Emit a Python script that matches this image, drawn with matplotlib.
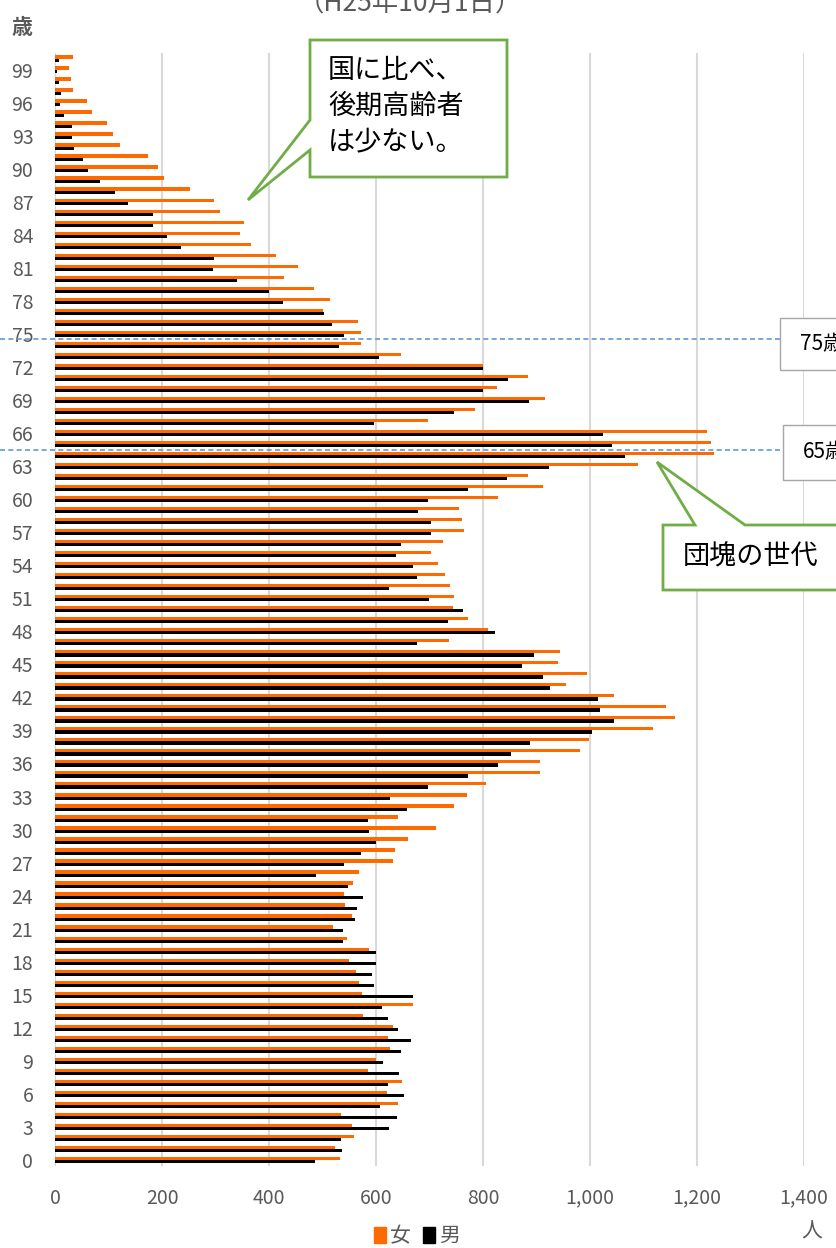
import matplotlib
matplotlib.use('Agg')
import matplotlib.pyplot as plt
from matplotlib.patches import Polygon, Rectangle, Patch
from matplotlib.transforms import blended_transform_factory
from matplotlib.ticker import FuncFormatter
import numpy as np

plt.rcParams['font.family'] = ['Noto Sans CJK JP', 'DejaVu Sans']

# 年齢 0〜100
ages = np.arange(0, 101)
female = [532, 522, 558, 554, 535, 641, 620, 649, 584, 599,
          625, 622, 631, 575, 668, 574, 567, 563, 549, 587,
          546, 519, 555, 541, 539, 557, 568, 631, 636, 660,
          712, 640, 745, 770, 805, 906, 907, 981, 998, 1118,
          1159, 1142, 1044, 955, 995, 941, 944, 737, 809, 772,
          744, 746, 738, 728, 716, 703, 725, 765, 761, 754,
          828, 913, 884, 1090, 1232, 1226, 1218, 697, 785, 915,
          826, 884, 800, 646, 571, 571, 566, 500, 513, 483,
          427, 454, 412, 366, 346, 353, 308, 296, 251, 203,
          191, 173, 120, 108, 96, 69, 59, 32, 29, 25, 32]
male = [485, 536, 535, 624, 638, 608, 652, 623, 642, 613,
        647, 665, 640, 623, 611, 668, 595, 592, 600, 599,
        537, 538, 560, 565, 575, 548, 488, 539, 571, 600,
        587, 585, 657, 626, 697, 772, 828, 853, 888, 1004,
        1045, 1018, 1015, 926, 913, 873, 896, 676, 822, 735,
        762, 698, 624, 677, 668, 637, 647, 703, 703, 678,
        696, 772, 844, 923, 1066, 1041, 1024, 596, 746, 886,
        799, 847, 800, 606, 530, 539, 517, 503, 426, 399,
        339, 294, 296, 235, 208, 182, 182, 135, 111, 83,
        60, 51, 34, 31, 30, 16, 8, 11, 6, 2, 7]
y_ticks = list(range(0, 100, 3))
x_ticks = list(range(0, 1401, 200))

ORANGE = '#FF6A00'
GRAY = '#595959'

fig = plt.figure(figsize=(8.37, 12.48), dpi=100)
ax = fig.add_axes([55.5 / 837, 1 - 1165.5 / 1248, 748.3 / 837, 1112.5 / 1248])

h = 0.29
ax.barh(ages + h / 2, female, height=h, color=ORANGE, zorder=3)
ax.barh(ages - h / 2, male, height=h, color='black', zorder=3)

ax.set_xlim(0, 1400)
ax.set_ylim(-0.5, 100.5)
ax.set_xticks(x_ticks)
ax.set_yticks(y_ticks)
ax.xaxis.set_major_formatter(FuncFormatter(lambda v, p: f'{int(v):,}'))
ax.tick_params(axis='both', length=0, labelsize=14, colors=GRAY)
ax.tick_params(axis='x', pad=16)
ax.tick_params(axis='y', pad=16)
ax.grid(axis='x', color='#D9D9D9', linewidth=1.5, zorder=0)
for s in ax.spines.values():
    s.set_visible(False)

# 75歳・65歳の境界線
blend = blended_transform_factory(fig.transFigure, ax.transData)
for yy in [74.5, 64.5]:
    ax.plot([0, 1], [yy, yy], transform=blend, clip_on=False,
            color='#5B9BD5', linestyle=(0, (3, 2)), linewidth=1.2, zorder=4)

# 注記用のオーバーレイ（ピクセル座標）
ov = fig.add_axes([0, 0, 1, 1])
ov.set_xlim(0, 837)
ov.set_ylim(1248, 0)
ov.axis('off')
ov.patch.set_alpha(0)

green = '#70AD47'
call1 = [(310, 40), (507, 40), (507, 177), (310, 177), (310, 150), (248, 200), (310, 120)]
ov.add_patch(Polygon(call1, closed=True, facecolor='white', edgecolor=green, linewidth=2))
for i, line in enumerate(['国に比べ、', '後期高齢者', 'は少ない。']):
    ov.text(328, 70 + 36 * i, line, fontsize=19.5, va='center', ha='left', color='black')

call2 = [(663, 525), (695, 525), (657, 462), (745, 525), (850, 525), (850, 590), (663, 590)]
ov.add_patch(Polygon(call2, closed=True, facecolor='white', edgecolor=green, linewidth=2))
ov.text(683, 557, '団塊の世代', fontsize=19.5, va='center', ha='left', color='black')

ov.add_patch(Rectangle((780, 318), 90, 52, facecolor='white', edgecolor='#A6A6A6', linewidth=1))
ov.text(800, 344, '75歳以上', fontsize=15, va='center', ha='left', color='black')
ov.add_patch(Rectangle((783, 425), 90, 55, facecolor='white', edgecolor='#A6A6A6', linewidth=1))
ov.text(803, 452, '65歳以上', fontsize=15, va='center', ha='left', color='black')

ov.text(410, 4, '（H25年10月1日）', fontsize=19, va='center', ha='center', color=GRAY)
ov.text(22, 27, '歳', fontsize=15, va='center', ha='center', color=GRAY, fontweight='bold')
ov.text(812, 1232, '人', fontsize=15, va='center', ha='center', color=GRAY)

handles = [Patch(color=ORANGE, label='女'), Patch(color='black', label='男')]
fig.legend(handles=handles, loc='center', bbox_to_anchor=(417 / 837, 1 - 1236 / 1248),
           ncol=2, frameon=False, fontsize=15, handlelength=0.55, handleheight=0.8,
           handletextpad=0.2, columnspacing=0.6, labelcolor=GRAY)

fig.savefig('out.png', dpi=100)
